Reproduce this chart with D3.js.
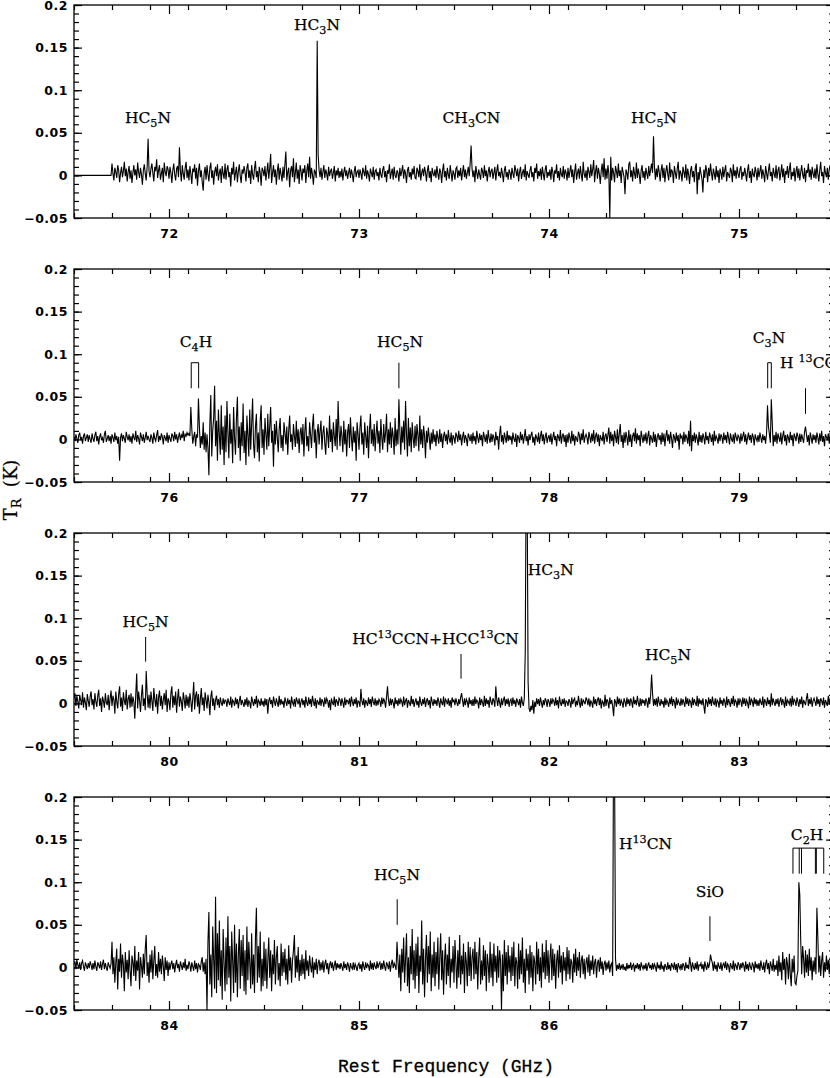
<!DOCTYPE html>
<html>
<head>
<meta charset="utf-8">
<script src="https://cdn.jsdelivr.net/npm/d3@7"></script>
<style>
  body { margin: 0; background: #fff; }
  text { white-space: pre; }
</style>
</head>
<body>
<svg id="chart"></svg>
<script>
// spectra: T_R in mK, one channel every 0.005 GHz, starting at panelStart
var panelStart = [71.5, 75.5, 79.5, 83.5];
var chanWidth = 0.005;

var spec1 = [
  0,0,0,0,0,0,0,0,0,0,0,0,0,0,0,0,0,0,0,0,
  0,0,0,0,0,0,0,0,0,0,0,0,0,0,0,0,0,0,0,0,
  14,2,-6,9,4,-3,12,6,-8,3,10,-2,5,16,-1,8,-7,4,11,-4,
  6,-9,3,12,0,7,-5,15,4,-3,9,1,-11,6,13,2,-6,10,43,5,
  -2,8,14,3,-7,10,5,19,-3,6,12,-5,2,9,-8,15,4,-1,11,7,
  -4,10,3,-9,6,14,1,-6,8,11,-2,33,5,-7,12,2,-5,9,16,-3,
  7,-6,11,2,-10,8,4,13,-4,9,-12,5,14,-2,6,-8,-18,3,10,-5,
  12,1,-7,9,15,-3,6,-11,4,10,-1,13,-6,3,8,-9,11,2,-4,14,
  -5,7,12,-2,4,-13,9,1,16,-6,3,10,-8,5,13,-1,-9,7,2,11,
  4,-7,9,14,-3,6,-10,12,1,-5,8,17,-2,5,-8,10,3,-12,9,6,
  -1,11,-6,4,15,-4,8,25,-9,3,12,-2,7,-11,5,14,-5,9,1,-7,
  10,-3,13,28,-6,4,9,-14,6,11,-2,20,-8,3,15,-4,7,-10,12,5,
  -6,8,3,12,-9,5,14,-2,22,-4,9,1,-11,6,4,-3,158,24,6,-2,
  9,-5,4,12,-3,7,2,-6,10,-1,5,8,-4,3,11,-7,6,0,9,-3,
  5,-2,8,-6,4,10,-1,6,-4,3,9,-3,7,1,-8,5,11,-2,4,6,
  -3,7,2,-5,9,4,-1,12,-4,6,1,-7,8,3,-2,10,-5,5,7,-1,
  4,-6,9,1,-3,7,11,-2,5,-8,6,2,13,-4,3,8,-5,10,0,-3,
  6,3,-7,9,-1,5,12,-4,7,2,-9,6,10,-2,4,-5,8,1,11,-3,
  -4,9,5,-2,13,-6,3,8,-1,10,4,-7,6,12,-3,5,-8,9,2,-1,
  7,-3,11,2,-5,8,4,-9,6,14,-2,5,-6,9,1,-4,12,3,-7,6,
  2,-5,8,10,-3,6,-1,9,-6,4,12,-2,7,-4,3,10,-1,14,35,8,
  -2,6,-8,11,3,-4,7,1,-5,9,5,-3,12,-1,6,-7,4,10,-2,5,
  8,-4,3,10,-6,5,13,-1,4,-3,9,2,-8,6,11,-2,4,-5,7,3,
  -5,9,2,-3,12,6,-1,8,-7,4,10,-4,3,7,-2,13,-6,5,1,-3,
  6,11,-2,4,-7,9,3,14,-4,5,-1,8,-5,10,2,-6,7,12,-3,4,
  -1,7,-5,10,4,-8,6,2,13,-3,5,-6,9,1,-2,11,-4,7,3,-6,
  9,-3,5,12,-2,7,-9,4,14,-5,3,8,-4,11,1,-7,16,2,-3,6,
  -6,10,4,-3,13,-1,7,18,-8,5,12,-4,9,2,-10,6,14,-2,20,-5,
  8,-4,12,2,-50,22,-6,9,3,-8,11,5,-3,14,-1,6,-9,10,4,-2,
  -22,7,3,-5,13,16,-2,6,-7,10,2,-4,15,-3,8,1,-10,6,12,-3,
  5,-6,9,2,-4,11,-1,7,14,3,46,10,-5,8,-2,12,4,-7,6,13,
  -3,9,-8,5,12,1,-6,15,-2,7,4,-9,11,3,-4,8,16,-5,6,2,
  -7,10,4,-3,13,-6,8,1,-10,6,11,-2,5,-8,9,14,-22,4,-5,10,
  2,-4,-20,7,-3,12,5,-8,9,-1,14,3,-6,8,2,-5,11,-2,6,-9,
  8,3,-5,10,-2,6,12,-7,4,1,-3,9,5,-8,13,-1,6,-4,10,2,
  -3,7,11,-5,4,-1,9,2,-7,6,13,-3,5,-9,8,1,-2,10,4,-6,
  9,-2,5,12,-4,7,1,-8,11,3,-5,6,14,-1,4,-7,9,2,-3,12,
  -4,6,10,-6,3,13,-2,8,-9,5,1,11,-3,7,15,-5,4,-1,9,-7,
  5,11,-3,8,-6,4,12,1,-4,9,-8,6,3,14,-2,7,-5,10,2,-3,
  8,-4,13,2,-7,6,16,-1,4,-9,11,3,-2,9,-5,7,12,-3,5,1,
  6
];

var spec2 = [
  3,-2,6,1,-4,5,8,-1,3,-5,4,7,-2,2,6,-3,5,0,-4,7,
  1,-3,5,9,-2,4,-6,3,7,-1,2,-4,6,10,-3,1,5,-2,4,-5,
  6,2,-3,8,-1,4,-5,3,-25,2,7,-2,5,1,-4,9,3,-1,6,-3,
  4,-5,7,2,-1,10,-3,5,1,-6,8,3,-2,6,-4,2,9,-1,4,0,
  -3,6,2,-5,8,1,-2,5,11,-3,4,-1,7,3,-6,5,2,-2,8,-4,
  5,1,-3,7,4,-2,9,0,6,-4,3,8,-1,5,2,10,-2,6,4,8,
  5,7,4,38,12,-5,3,9,-8,6,2,48,15,-10,4,-6,20,-12,8,-15,
  6,-10,-42,18,52,-20,10,25,63,-8,22,-25,35,5,-18,40,-12,15,-30,28,
  -15,45,8,-22,30,-5,12,-28,38,2,-18,25,50,-10,15,-25,20,-8,42,-16,
  10,-30,28,5,-20,35,-12,18,48,-6,-22,15,30,-15,8,-26,22,40,-10,12,
  -18,25,6,-12,30,-8,15,38,-4,10,-32,18,-6,22,2,-15,12,25,-10,5,
  -14,20,8,-6,15,-18,10,28,-3,6,-12,18,4,-9,22,-5,12,-16,8,14,
  -6,18,-20,10,26,-8,4,-14,20,6,-10,15,30,-4,12,-22,8,18,-6,10,
  22,-12,8,16,-5,-18,14,6,-10,28,-3,12,-15,20,4,-8,24,-12,45,10,
  -8,16,4,-15,22,-6,12,-20,8,18,-10,26,2,-14,15,-4,10,-25,20,6,
  -12,14,28,-6,8,-18,20,4,-10,16,-22,10,30,-5,12,-8,18,-14,6,22,
  -5,10,-16,24,2,-12,18,-4,8,30,-15,12,-6,20,-10,14,4,-18,25,-8,
  12,-6,47,10,-18,15,-4,22,-12,45,6,-20,25,-8,14,-15,20,2,-10,16,
  -8,18,5,-14,28,-6,12,-10,16,4,-22,10,-4,14,2,-12,8,-5,12,-3,
  6,-8,10,2,-5,12,-3,7,-10,4,9,-2,6,-6,11,1,-4,8,-7,5,
  2,-5,8,4,-3,10,-1,6,-7,3,9,-4,5,1,-8,7,3,-2,6,-5,
  8,-2,4,-6,10,2,-4,7,-1,5,-8,9,3,-3,6,-5,11,1,-4,7,
  -3,6,2,-7,9,-1,4,-12,6,16,-3,5,-6,8,2,-4,10,-2,5,-1,
  4,-6,8,1,-3,7,-9,5,2,-4,9,-1,6,-5,3,12,-2,4,-7,6,
  -1,5,9,-4,3,-7,6,2,-3,8,-5,4,10,-2,6,-6,3,8,-4,2,
  5,-3,7,-6,2,9,-1,4,-8,6,3,-2,11,-5,4,7,-3,5,-9,6,
  -4,8,2,-5,10,-2,6,-7,4,1,-3,9,5,-6,7,-1,12,-4,3,6,
  2,-6,9,3,-4,7,-2,11,-5,4,8,-3,6,-8,5,1,-2,9,-6,4,
  7,-3,5,14,-5,9,-2,6,-8,10,3,-4,12,-6,7,18,-3,5,-10,8,
  -4,9,2,-7,11,-3,6,-9,4,8,-2,13,-5,7,-1,5,-8,10,3,-4,
  6,-2,8,-5,4,10,-7,5,1,-4,9,-3,6,-9,3,7,-1,5,-6,8,
  -3,7,-8,4,11,-2,6,-5,9,1,-10,6,3,-4,8,-2,5,-12,7,2,
  4,-6,9,-3,6,2,-5,10,-8,22,-14,5,-2,8,-4,6,1,-7,9,-3,
  5,-4,7,2,-6,9,-1,4,-5,8,3,-3,6,-7,10,-2,4,1,-5,7,
  -2,6,3,-5,8,-1,5,-4,9,2,-6,7,1,-3,6,-5,8,3,-2,5,
  3,-5,7,-2,4,9,-3,6,-6,2,8,-1,5,-4,7,3,-7,6,1,-2,
  5,-3,8,2,-4,6,-1,4,-5,7,40,15,6,-4,47,20,-8,5,-3,9,
  -5,7,2,-3,8,-6,4,10,-2,5,-7,6,2,-4,9,-1,5,-8,7,3,
  -2,8,4,-5,7,-3,6,1,-4,9,15,6,-3,5,-7,8,2,-5,6,-1,
  5,-4,8,2,-6,7,-2,10,-3,4,-8,6,3,-1,7,-5,9,2,-3,6,
  4
];

var spec3 = [
  6,12,-3,9,2,-6,10,4,-2,13,-5,7,1,-8,11,3,-4,8,14,-2,
  5,-7,12,2,-4,9,16,-3,6,-10,8,3,-5,12,1,-2,10,-8,6,15,
  -3,9,4,-12,14,2,-6,11,20,-4,7,-9,13,3,-2,16,-7,5,10,-5,
  12,-4,8,2,-18,10,35,-6,14,4,-10,9,22,-3,6,-8,38,12,-5,10,
  -6,14,3,-9,18,5,-4,11,-12,7,15,-3,9,-7,4,12,-2,16,-10,6,
  3,-8,12,20,-5,9,-2,14,-11,6,17,-4,8,2,-9,13,5,-6,10,-3,
  8,-5,12,3,-10,6,25,-7,9,14,-4,11,-12,5,18,-2,7,-9,13,4,
  -6,10,2,-14,8,15,-3,6,-8,4,9,-2,5,-5,7,1,-3,6,-1,4,
  3,-4,6,1,-2,8,-5,4,2,-3,7,-1,5,-6,3,9,-2,4,0,-4,
  5,-2,7,-4,3,1,-6,8,2,-3,5,-1,9,-5,4,2,-3,6,-2,3,
  -4,6,-2,5,-12,3,7,-1,4,-5,8,2,-3,6,1,-4,9,-2,5,-1,
  3,-5,7,2,-3,6,-1,4,-6,8,1,-2,5,-4,7,3,-1,6,-5,2,
  6,-2,4,-5,8,1,-3,7,-1,5,-4,9,2,-3,6,-6,4,1,-2,7,
  -3,5,2,-4,7,-1,6,3,-5,4,-8,6,1,-2,8,-4,5,2,-3,6,
  4,-3,6,1,-5,7,-2,4,3,-1,6,-4,8,2,-3,5,-1,7,-5,3,
  2,-4,17,3,-2,6,-5,4,1,-3,7,-1,5,-4,8,2,-2,6,-3,4,
  -2,5,3,-4,7,-1,6,2,-5,8,20,4,-3,6,-2,5,1,-6,7,-1,
  4,-3,6,-1,5,2,-4,8,-2,3,6,-5,4,1,-3,9,-1,5,-4,2,
  6,-2,3,-5,8,1,-3,5,-1,7,-4,3,6,-2,4,-6,8,2,-3,5,
  -1,4,-3,7,2,-5,6,1,-2,8,-4,5,3,-1,6,-3,4,-5,7,2,
  4,-2,6,1,-3,5,-1,7,12,3,-4,6,-2,5,2,-5,7,-1,4,-3,
  5,-3,8,-1,4,2,-6,7,-2,5,1,-4,9,-3,6,-1,4,-5,8,2,
  -2,6,3,-4,20,5,-3,7,1,-5,6,-2,4,8,-3,5,-1,6,-4,3,
  5,-3,7,-1,4,-4,6,2,-2,5,-5,8,1,-3,6,60,280,250,25,-6,
  -10,-3,-8,4,-12,2,-4,6,-1,5,-3,7,1,-5,4,-2,6,3,-4,5,
  2,-4,6,-1,5,3,-3,7,-2,4,-6,8,1,-3,5,-1,6,-4,3,2,
  -3,5,2,-5,7,-1,4,6,-4,3,-2,9,1,-5,6,-3,4,2,-1,7,
  4,-2,6,-4,3,1,-5,8,-1,5,-3,4,7,-2,6,-6,3,1,-4,10,
  -3,5,2,-6,7,-1,4,-3,-15,5,2,-4,8,-1,6,-3,4,1,-5,6,
  2,-4,7,-1,5,-3,6,2,-5,8,-1,4,-2,9,1,-4,6,-3,5,0,
  4,-3,6,2,-5,7,-1,10,34,12,-3,5,-2,6,-4,8,1,-3,5,-1,
  3,-5,7,-2,4,1,-4,6,-1,8,-3,5,2,-6,7,-2,4,1,-3,6,
  -2,5,1,-4,8,-1,6,-3,4,2,-5,7,-2,5,1,-3,9,-4,6,-1,
  4,-2,6,-3,-12,5,2,-4,7,-1,5,-3,8,1,-2,6,-4,4,2,-5,
  7,-1,4,-3,6,2,-5,8,-2,5,1,-4,6,-1,9,-3,4,2,-5,6,
  -2,5,3,-4,7,-1,6,-3,4,1,-6,8,-2,5,3,-4,7,-1,5,-3,
  4,-3,6,1,-2,8,-5,5,2,-3,7,-1,4,-4,12,-2,6,1,-3,5,
  -1,6,-4,3,7,-2,5,1,-5,8,-3,4,2,-1,6,-4,9,-2,5,3,
  -3,7,2,-4,5,-1,8,-5,4,1,-2,6,12,-3,5,-1,7,-4,3,6,
  2,-3,8,-1,5,-4,6,3,-2,7,-5,4,1,-3,9,-1,6,14,-2,5,
  4
];

var spec4 = [
  4,7,-2,9,3,-1,6,-3,5,8,1,-4,6,2,-2,5,-1,7,3,-3,
  5,-2,8,1,-4,6,3,-1,7,-3,4,9,-2,5,0,-4,6,2,-1,4,
  30,-8,12,-18,6,22,-26,10,-5,28,-12,15,4,-28,18,-6,9,-14,20,-3,
  -22,14,6,-10,25,-16,8,-4,18,-26,12,2,-12,16,-8,22,38,-10,6,-18,
  15,-6,20,-14,8,25,-10,4,-12,18,-5,10,-8,14,2,-16,12,-3,8,-10,
  6,-3,4,8,-2,5,-6,3,9,-1,4,-5,7,2,-3,6,-1,10,-4,3,
  -2,7,3,-5,6,1,-4,8,-2,5,-6,4,2,-3,7,12,-5,6,-8,10,
  -50,30,65,-20,15,-35,48,10,-25,83,-30,40,-15,55,-22,20,-38,45,5,-28,
  35,-20,60,-12,25,-40,42,8,-30,50,-18,28,-35,15,45,-25,32,-10,38,-28,
  20,-32,48,-15,30,6,-25,40,-20,15,-30,35,70,-18,25,-12,42,-28,10,-22,
  30,-16,22,-25,8,35,-12,20,-28,15,-8,32,-20,12,25,-15,5,-22,28,-10,
  18,-6,22,-15,10,-20,26,-4,12,-18,8,20,38,-12,14,-6,24,-16,9,-10,
  15,-8,10,-14,20,-4,8,-10,14,2,-6,12,-12,6,-3,10,-8,5,9,-4,
  6,-3,8,-6,4,9,-2,5,-8,3,7,-1,6,-4,2,8,-3,5,-1,4,
  -2,5,1,-4,7,-1,4,-3,6,2,-5,5,0,-2,6,-3,4,1,-4,3,
  5,-2,4,-5,7,1,-3,6,-1,4,2,-4,8,-2,5,-3,6,1,-2,7,
  -1,4,6,-3,5,-2,8,1,-4,6,3,-2,7,-5,4,9,-1,5,2,-3,
  30,8,-12,15,-28,22,-6,35,-18,10,40,-22,12,-30,25,-8,45,-15,20,-25,
  28,-10,36,-30,14,-5,55,-20,22,-35,10,38,-18,25,-8,42,-28,15,-12,30,
  -22,18,-8,35,-26,12,40,-15,20,-32,8,28,-20,15,-10,36,-24,10,-6,25,
  -18,32,5,-25,20,-12,38,-20,14,-8,28,-30,18,6,-22,30,-10,24,-16,12,
  22,-14,30,-8,18,-26,12,35,-20,8,-15,26,-10,20,-28,16,4,-18,30,-12,
  16,-22,28,-5,14,-18,25,-12,20,8,-50,15,-28,32,-10,18,-20,26,-6,14,
  -16,24,-10,30,-22,12,6,-25,28,-14,20,-8,35,-18,10,-30,22,-4,16,-20,
  26,-12,18,-28,14,6,-20,30,-8,22,-16,12,-24,28,-6,18,-14,32,-10,20,
  -18,10,28,-15,22,-10,16,-25,8,20,-12,26,-6,14,-20,18,-4,12,-16,24,
  -8,20,-14,10,6,-18,16,-6,22,-10,12,-4,18,-12,8,14,-8,10,-14,6,
  12,-6,15,-10,8,-3,14,-8,6,10,-12,5,9,-5,12,-2,7,-9,4,8,
  -4,6,-2,8,-6,3,5,-10,280,240,10,-4,3,-2,5,-3,2,-1,4,-3,
  1,-4,5,-2,3,-1,6,-3,2,4,-5,3,-1,5,-2,4,-4,6,1,-2,
  3,-2,5,-4,2,6,-1,3,-3,5,-2,4,1,-5,6,-1,3,-3,7,-2,
  2,-5,4,1,-3,6,-2,3,-4,5,2,-1,6,-3,4,-6,5,1,-2,4,
  -3,5,2,-4,6,-1,3,-2,12,4,-5,6,1,-3,5,-2,7,-4,3,2,
  5,-2,4,-5,7,1,-3,6,-1,4,15,9,5,-4,7,-2,3,-5,6,1,
  -2,6,-4,3,5,-1,7,-3,4,2,-6,5,1,-2,8,-4,4,2,-3,6,
  3,-3,5,-1,6,2,-5,7,-2,4,-4,6,1,-3,5,3,-6,7,-1,4,
  -2,5,-4,8,1,-3,6,-6,4,9,-2,5,-8,7,2,-4,10,-5,3,-3,
  8,-10,14,-5,6,-15,18,-3,10,-20,12,4,-14,16,-8,-22,10,-6,14,-18,
  -20,-10,-4,100,85,30,-8,25,10,-12,20,-6,15,-10,22,-4,12,-15,8,-5,
  12,-8,70,35,-6,14,-10,8,18,-12,6,-5,14,-3,9,-8,12,2,-6,10,
  4
];

var spectra = [spec1, spec2, spec3, spec4];

// axis ticks
var yMajor = [-0.05, 0, 0.05, 0.1, 0.15, 0.2];
var xMajor = [[72, 73, 74, 75], [76, 77, 78, 79], [80, 81, 82, 83], [84, 85, 86, 87]];

// line identifications: panel, label, frequency (GHz), label baseline (K), anchor
var lineLabels = [
  [0, "HC_5N", 71.889, 0.062, "middle"],
  [0, "HC_3N", 72.779, 0.171, "middle"],
  [0, "CH_3CN", 73.592, 0.062, "middle"],
  [0, "HC_5N", 74.553, 0.062, "middle"],
  [1, "C_4H", 76.142, 0.108, "middle"],
  [1, "HC_5N", 77.216, 0.108, "middle"],
  [1, "C_3N", 79.158, 0.113, "middle"],
  [1, "H ^13CCCN", 79.216, 0.084, "start"],
  [2, "HC_5N", 79.877, 0.0895, "middle"],
  [2, "HC^13CCN+HCC^13CN", 81.403, 0.070, "middle"],
  [2, "HC_3N", 81.888, 0.151, "start"],
  [2, "HC_5N", 82.626, 0.051, "middle"],
  [3, "HC_5N", 85.200, 0.102, "middle"],
  [3, "H^13CN", 86.368, 0.1395, "start"],
  [3, "SiO", 86.847, 0.0825, "middle"],
  [3, "C_2H", 87.358, 0.150, "middle"]
];

// marker ticks: panel, frequencies (GHz), bottom (K), top (K)
var lineMarks = [
  [1, [76.117, 76.156], 0.060, 0.090],
  [1, [77.210], 0.060, 0.090],
  [1, [79.151, 79.170], 0.060, 0.090],
  [1, [79.350], 0.030, 0.060],
  [2, [79.877], 0.049, 0.078],
  [2, [81.537], 0.029, 0.058],
  [3, [85.201], 0.050, 0.080],
  [3, [86.847], 0.031, 0.060],
  [3, [87.284, 87.317, 87.329, 87.402, 87.407, 87.446], 0.110, 0.140]
];

var width = 830, height = 1078;
var left = 74, right = 834;
var panelTop = [5, 269, 533, 797];
var panelH = 213;

var svg = d3.select("#chart")
    .attr("width", width)
    .attr("height", height)
    .style("display", "block");

var tickFont = "bold 12.5px 'DejaVu Sans', sans-serif";
var labelFont = "'DejaVu Serif', serif";

// text with _sub and ^sup pieces
function addLabel(g, str, xp, yp, anchor, size) {
    var t = g.append("text")
        .attr("x", xp)
        .attr("y", yp)
        .attr("text-anchor", anchor)
        .style("font-family", labelFont)
        .style("font-size", size + "px")
        .attr("fill", "#000")
        .attr("stroke", "#000")
        .attr("stroke-width", 0.25);
    var parts = str.split(/([_^](?:\d+|[A-Z]))/);
    var shift = 0;
    parts.forEach(function(s) {
        if (!s) return;
        var ts = t.append("tspan");
        var dy = 0;
        if (s[0] == "_") {
            ts.text(s.slice(1)).style("font-size", "72%");
            dy = 4;
        } else if (s[0] == "^") {
            ts.text(s.slice(1)).style("font-size", "72%");
            dy = -6;
        } else {
            ts.text(s);
        }
        ts.attr("dy", dy - shift);
        shift = dy;
    });
    return t;
}

spectra.forEach(function(spec, k) {
    var start = panelStart[k];
    var top = panelTop[k];
    var x = d3.scaleLinear().domain([start, start + 4]).range([left, right]);
    var y = d3.scaleLinear().domain([-0.05, 0.2]).range([top + panelH, top]);
    var xMinor = d3.range(start, start + 4.001, 0.2);
    var yMinor = d3.range(-0.05, 0.2001, 0.01);

    var g = svg.append("g");

    g.append("clipPath").attr("id", "clip" + k)
      .append("rect")
        .attr("x", left).attr("y", top)
        .attr("width", right - left).attr("height", panelH);

    // spectrum
    var line = d3.line()
        .x(function(d, i) { return x(start + i * chanWidth); })
        .y(function(d) { return y(d / 1000); });

    g.append("path")
        .datum(spec)
        .attr("clip-path", "url(#clip" + k + ")")
        .attr("fill", "none")
        .attr("stroke", "#000")
        .attr("stroke-width", 1.1)
        .attr("d", line);

    // minor ticks
    g.append("g").attr("transform", "translate(0," + (top + panelH) + ")")
        .call(d3.axisBottom(x).tickValues(xMinor).tickSize(-5).tickFormat(""));
    g.append("g").attr("transform", "translate(0," + top + ")")
        .call(d3.axisTop(x).tickValues(xMinor).tickSize(-5).tickFormat(""));
    g.append("g").attr("transform", "translate(" + left + ",0)")
        .call(d3.axisLeft(y).tickValues(yMinor).tickSize(-5).tickFormat(""));
    g.append("g").attr("transform", "translate(" + right + ",0)")
        .call(d3.axisRight(y).tickValues(yMinor).tickSize(-5).tickFormat(""));

    // major ticks with labels
    g.append("g").attr("transform", "translate(0," + (top + panelH) + ")")
        .call(d3.axisBottom(x).tickValues(xMajor[k]).tickSize(-9).tickPadding(11)
              .tickFormat(d3.format("d")));
    g.append("g").attr("transform", "translate(0," + top + ")")
        .call(d3.axisTop(x).tickValues(xMajor[k]).tickSize(-9).tickFormat(""));
    g.append("g").attr("transform", "translate(" + left + ",0)")
        .call(d3.axisLeft(y).tickValues(yMajor).tickSize(-8).tickPadding(6)
              .tickFormat(d3.format("~g")));
    g.append("g").attr("transform", "translate(" + right + ",0)")
        .call(d3.axisRight(y).tickValues(yMajor).tickSize(-8).tickFormat(""));

    g.selectAll(".domain").remove();
    g.selectAll(".tick line").attr("stroke", "#000").attr("stroke-width", 1.2);
    g.selectAll(".tick text")
        .style("font", tickFont)
        .style("letter-spacing", "0.5px")
        .attr("fill", "#000");

    // frame
    g.append("rect")
        .attr("x", left).attr("y", top)
        .attr("width", right - left).attr("height", panelH)
        .attr("fill", "none")
        .attr("stroke", "#000")
        .attr("stroke-width", 1.3);

    // line markers
    lineMarks.filter(function(m) { return m[0] == k; }).forEach(function(m) {
        var fr = m[1];
        fr.forEach(function(f) {
            g.append("line")
                .attr("x1", x(f)).attr("x2", x(f))
                .attr("y1", y(m[2])).attr("y2", y(m[3]))
                .attr("stroke", "#000").attr("stroke-width", 1);
        });
        if (fr.length > 1) {
            g.append("line")
                .attr("x1", x(fr[0])).attr("x2", x(fr[fr.length - 1]))
                .attr("y1", y(m[3])).attr("y2", y(m[3]))
                .attr("stroke", "#000").attr("stroke-width", 1);
        }
    });

    // line names
    lineLabels.filter(function(l) { return l[0] == k; }).forEach(function(l) {
        addLabel(g, l[1], x(l[2]), y(l[3]), l[4], 15.5);
    });
});

// axis titles
svg.append("text")
    .attr("x", 446)
    .attr("y", 1072)
    .attr("text-anchor", "middle")
    .style("font-family", "'Liberation Mono', monospace")
    .style("font-size", "18px")
    .attr("fill", "#000")
    .attr("stroke", "#000")
    .attr("stroke-width", 0.3)
    .text("Rest Frequency (GHz)");

var yt = addLabel(svg, "T_R  (K)", 0, 0, "middle", 18);
yt.attr("transform", "translate(17,490) rotate(-90)");
</script>
</body>
</html>
